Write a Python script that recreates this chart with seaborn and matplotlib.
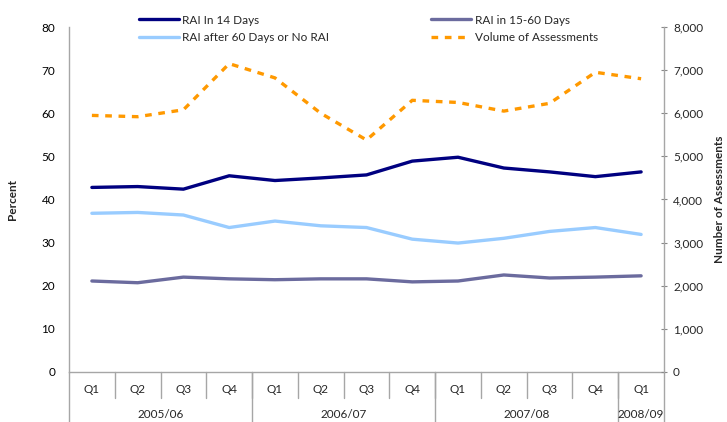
import numpy as np
import pandas as pd
import seaborn as sns
import matplotlib.pyplot as plt

# data
quarters = ['Q1', 'Q2', 'Q3', 'Q4', 'Q1', 'Q2', 'Q3', 'Q4', 'Q1', 'Q2', 'Q3', 'Q4', 'Q1']
years = ['2005/06', '2006/07', '2007/08', '2008/09']
year_sizes = [4, 4, 4, 1]
rai_14 = [42.8, 43.0, 42.4, 45.5, 44.4, 45.0, 45.7, 48.9, 49.8, 47.3, 46.4, 45.3, 46.4]
rai_15_60 = [21.1, 20.7, 22.0, 21.6, 21.4, 21.6, 21.6, 20.9, 21.1, 22.5, 21.8, 22.0, 22.3]
rai_after_60 = [36.8, 37.0, 36.4, 33.5, 35.0, 33.9, 33.5, 30.8, 29.9, 31.0, 32.6, 33.5, 31.9]
volume = [5950, 5920, 6080, 7150, 6820, 6000, 5380, 6300, 6250, 6050, 6230, 6950, 6800]

sns.set_style('white')
plt.rcParams['font.family'] = ['Lato', 'DejaVu Sans']

pos = np.arange(len(quarters))
df = pd.DataFrame({'pos': pos, 'a': rai_14, 'b': rai_15_60, 'c': rai_after_60, 'v': volume})

fig = plt.figure(figsize=(7.27, 4.22), dpi=100)
ax = fig.add_axes([69/727, 50/422, 595/727, 345/422])
ax2 = ax.twinx()

grey = '#a6a6a6'
sns.lineplot(data=df, x='pos', y='a', ax=ax, color='#000080', lw=2.4, label='RAI In 14 Days', legend=False)
sns.lineplot(data=df, x='pos', y='b', ax=ax, color='#6b6b9e', lw=2.4, label='RAI in 15-60 Days', legend=False)
sns.lineplot(data=df, x='pos', y='c', ax=ax, color='#99ccff', lw=2.4, label='RAI after 60 Days or No RAI', legend=False)
sns.lineplot(data=df, x='pos', y='v', ax=ax2, color='#ff9900', lw=2.4, label='Volume of Assessments',
             legend=False, dashes=False)
ax2.lines[0].set_dashes([2, 2])

ax.set_xlim(-0.5, len(quarters) - 0.5)
ax.set_ylim(0, 80)
ax2.set_ylim(0, 8000)
ax.set_yticks(range(0, 81, 10))
ax2.set_yticks(range(0, 8001, 1000))
ax2.set_yticklabels([f'{v:,}' for v in range(0, 8001, 1000)])
ax.set_xticks([])
ax.set_xlabel('')
ax2.set_xlabel('')

for a in (ax, ax2):
    for s in a.spines.values():
        s.set_color(grey)
        s.set_linewidth(1)
    a.spines['top'].set_visible(False)
ax.spines['right'].set_visible(False)
ax2.spines['left'].set_visible(False)
ax2.spines['bottom'].set_visible(False)

ax.tick_params(axis='y', length=0, labelsize=8.5, pad=10, colors='black')
ax2.tick_params(axis='y', length=5, direction='inout', color='#888888', labelsize=8.5, pad=4)

ax.set_ylabel('Percent', fontsize=8.5, fontweight='bold')
ax.yaxis.set_label_coords(-51/595, 0.5)
ax2.set_ylabel('Number of Assessments', fontsize=8.5, fontweight='bold', labelpad=8)

# two-level category axis
tr = ax.get_xaxis_transform()
for i, q in enumerate(quarters):
    ax.text(i, -0.052, q, transform=tr, ha='center', va='center', fontsize=8.5)
for i in range(1, len(quarters)):
    ax.plot([i - 0.5, i - 0.5], [0, -0.075], transform=tr, color=grey, lw=1, clip_on=False)
start = -0.5
for y, n in zip(years, year_sizes):
    ax.plot([start, start], [0, -0.145], transform=tr, color=grey, lw=1, clip_on=False)
    ax.text(start + n / 2, -0.122, y, transform=tr, ha='center', va='center', fontsize=8.5)
    start += n
ax.plot([start, start], [0, -0.145], transform=tr, color=grey, lw=1, clip_on=False)

h1, l1 = ax.get_legend_handles_labels()
h2, l2 = ax2.get_legend_handles_labels()
handles = [h1[0], h1[2], h1[1], h2[0]]
labels = [l1[0], l1[2], l1[1], l2[0]]
fig.legend(handles, labels, ncol=2, loc='upper left', bbox_to_anchor=(128/727, 1 - 4/422),
           frameon=False, fontsize=8.5, handlelength=3.4, handletextpad=0.3,
           columnspacing=8.6, labelspacing=0.55)

fig.savefig('out.png', dpi=100)
